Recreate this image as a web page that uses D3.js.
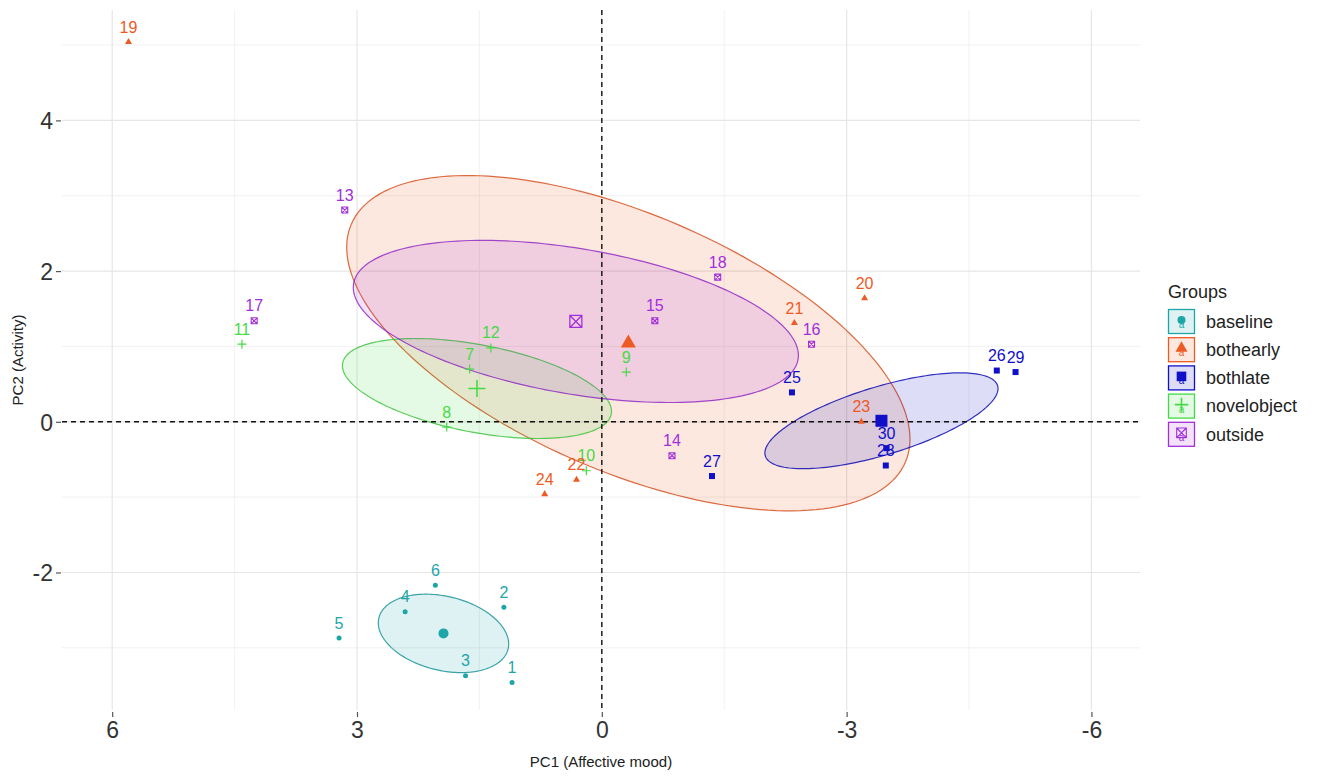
<!DOCTYPE html>
<meta charset="utf-8">
<script src="https://d3js.org/d3.v7.min.js"></script>
<style>
  body { margin: 0; background: #fff; }
  text { font-family: "Liberation Sans", Arial, sans-serif; }
</style>
<div id="my_dataviz"></div>
<script>

// groups, one colour and shape each
const groupNames = ["baseline", "bothearly", "bothlate", "novelobject", "outside"];
const groupColors = ["#1DA5AA", "#EE5A24", "#1010C8", "#45DA45", "#A22FDC"];

// individuals (label, group, PC1, PC2)
const pointIds = [1, 2, 3, 4, 5, 6, 7, 8, 9, 10, 11, 12, 13, 14, 15,
                  16, 17, 18, 19, 20, 21, 22, 23, 24, 25, 26, 27, 28, 29, 30];
const pointGroup = ["baseline", "baseline", "baseline", "baseline", "baseline", "baseline",
                    "novelobject", "novelobject", "novelobject", "novelobject", "novelobject", "novelobject",
                    "outside", "outside", "outside", "outside", "outside", "outside",
                    "bothearly", "bothearly", "bothearly", "bothearly", "bothearly", "bothearly",
                    "bothlate", "bothlate", "bothlate", "bothlate", "bothlate", "bothlate"];
const pc1 = [1.10, 1.20, 1.67, 2.41, 3.22, 2.04,
             1.62, 1.90, -0.30, 0.19, 4.41, 1.36,
             3.15, -0.86, -0.65, -2.57, 4.26, -1.42,
             5.80, -3.22, -2.36, 0.31, -3.18, 0.70,
             -2.33, -4.84, -1.35, -3.48, -5.07, -3.49];
const pc2 = [-3.46, -2.46, -3.37, -2.52, -2.87, -2.17,
             0.70, -0.07, 0.66, -0.65, 1.03, 0.98,
             2.81, -0.45, 1.34, 1.03, 1.34, 1.92,
             5.04, 1.64, 1.31, -0.77, 0.00, -0.96,
             0.39, 0.68, -0.72, -0.58, 0.66, -0.35];

const xTicks = [6, 3, 0, -3, -6];
const xMinor = [4.5, 1.5, -1.5, -4.5];
const yTicks = [4, 2, 0, -2];
const yMinor = [5, 3, 1, -1, -3];

const width = 1325, height = 782;
const panel = {left: 62, right: 1140, top: 10, bottom: 710};

const svg = d3.select("#my_dataviz")
  .append("svg")
    .attr("width", width)
    .attr("height", height)
    .style("background", "#fff");

// PC1 runs from positive (left) to negative (right)
const x = d3.scaleLinear().domain([6.615, -6.595]).range([panel.left, panel.right]);
const y = d3.scaleLinear().domain([5.465, -3.825]).range([panel.top, panel.bottom]);

const color = d3.scaleOrdinal().domain(groupNames).range(groupColors);

const data = pointIds.map((id, i) => ({id: id, group: pointGroup[i], x: pc1[i], y: pc2[i]}));

// grid
const grid = svg.append("g");
grid.selectAll(".minx").data(xMinor).join("line")
  .attr("x1", d => x(d)).attr("x2", d => x(d))
  .attr("y1", panel.top).attr("y2", panel.bottom)
  .attr("stroke", "#EDEDED").attr("stroke-width", 0.8);
grid.selectAll(".miny").data(yMinor).join("line")
  .attr("y1", d => y(d)).attr("y2", d => y(d))
  .attr("x1", panel.left).attr("x2", panel.right)
  .attr("stroke", "#EDEDED").attr("stroke-width", 0.8);
grid.selectAll(".majx").data(xTicks).join("line")
  .attr("x1", d => x(d)).attr("x2", d => x(d))
  .attr("y1", panel.top).attr("y2", panel.bottom)
  .attr("stroke", "#E6E6E6").attr("stroke-width", 1.2);
grid.selectAll(".majy").data(yTicks).join("line")
  .attr("y1", d => y(d)).attr("y2", d => y(d))
  .attr("x1", panel.left).attr("x2", panel.right)
  .attr("stroke", "#E6E6E6").attr("stroke-width", 1.2);

// axes: only ticks and labels, no domain line
const xAxis = svg.append("g")
  .attr("transform", `translate(0,${panel.bottom + 2})`)
  .call(d3.axisBottom(x).tickValues(xTicks).tickSize(5).tickPadding(5).tickFormat(d3.format("d")));
const yAxis = svg.append("g")
  .attr("transform", `translate(${panel.left - 1},0)`)
  .call(d3.axisLeft(y).tickValues(yTicks).tickSize(5).tickPadding(3).tickFormat(d3.format("d")));
[xAxis, yAxis].forEach(a => {
  a.select(".domain").remove();
  a.selectAll(".tick line").attr("stroke", "#555").attr("stroke-width", 1.2);
  a.selectAll(".tick text")
    .attr("fill", "#333")
    .style("font-family", "'Liberation Sans', Arial, sans-serif")
    .style("font-size", "23px");
});
// minus sign in the tick labels is a hyphen in the original
xAxis.selectAll(".tick text").text(d => String(d));
yAxis.selectAll(".tick text").text(d => String(d)).attr("dy", "0.36em");

// confidence ellipses of the group means (chi-square 2 df, 95%)
const k = 5.991;
const line = d3.line().curve(d3.curveLinearClosed);
function ellipsePath(pts) {
  const n = pts.length;
  const mx = d3.mean(pts, d => d.x), my = d3.mean(pts, d => d.y);
  let sxx = 0, syy = 0, sxy = 0;
  pts.forEach(d => {
    sxx += (d.x - mx) * (d.x - mx);
    syy += (d.y - my) * (d.y - my);
    sxy += (d.x - mx) * (d.y - my);
  });
  const a = sxx / (n - 1) / n, c = syy / (n - 1) / n, b = sxy / (n - 1) / n;
  const half = (a + c) / 2, diff = Math.sqrt(((a - c) / 2) ** 2 + b * b);
  const l1 = half + diff, l2 = half - diff;
  const th = 0.5 * Math.atan2(2 * b, a - c);
  const r1 = Math.sqrt(k * l1), r2 = Math.sqrt(k * l2);
  const out = d3.range(0, 2 * Math.PI, Math.PI / 90).map(t => {
    const ex = mx + r1 * Math.cos(t) * Math.cos(th) - r2 * Math.sin(t) * Math.sin(th);
    const ey = my + r1 * Math.cos(t) * Math.sin(th) + r2 * Math.sin(t) * Math.cos(th);
    return [x(ex), y(ey)];
  });
  return line(out);
}

const byGroup = d3.group(data, d => d.group);
const means = groupNames.map(g => ({
  group: g,
  x: d3.mean(byGroup.get(g), d => d.x),
  y: d3.mean(byGroup.get(g), d => d.y)
}));

svg.append("g").selectAll("path")
  .data(groupNames)
  .join("path")
    .attr("d", g => ellipsePath(byGroup.get(g)))
    .attr("fill", g => color(g))
    .attr("fill-opacity", 0.14)
    .attr("stroke", g => d3.color(color(g)).darker(0.3))
    .attr("stroke-opacity", 0.85)
    .attr("stroke-width", 1.2);

// zero lines
svg.append("line")
  .attr("x1", x(0)).attr("x2", x(0)).attr("y1", panel.top).attr("y2", panel.bottom)
  .attr("stroke", "#111").attr("stroke-width", 1.4).attr("stroke-dasharray", "5,4");
svg.append("line")
  .attr("y1", y(0)).attr("y2", y(0)).attr("x1", panel.left).attr("x2", panel.right)
  .attr("stroke", "#111").attr("stroke-width", 1.4).attr("stroke-dasharray", "5,4");

// marker drawing, s = size in px
function drawMarker(sel, group, s) {
  const col = color(group);
  if (group === "baseline") {
    sel.append("circle").attr("r", s / 2).attr("fill", col);
  } else if (group === "bothearly") {
    sel.append("path").attr("d", d3.symbol(d3.symbolTriangle, 0.433 * s * s)()).attr("fill", col);
  } else if (group === "bothlate") {
    sel.append("rect").attr("x", -s / 2).attr("y", -s / 2).attr("width", s).attr("height", s).attr("fill", col);
  } else if (group === "novelobject") {
    sel.append("path").attr("d", `M${-s / 2},0H${s / 2}M0,${-s / 2}V${s / 2}`)
      .attr("stroke", col).attr("stroke-width", s > 10 ? 1.6 : 1.2).attr("fill", "none");
  } else {
    const h = s / 2;
    sel.append("path").attr("d", `M${-h},${-h}H${h}V${h}H${-h}Z M${-h},${-h}L${h},${h} M${h},${-h}L${-h},${h}`)
      .attr("stroke", col).attr("stroke-width", s > 10 ? 1.3 : 1.1).attr("fill", "none");
  }
}
const pointSize = {baseline: 5, bothearly: 7, bothlate: 6, novelobject: 9, outside: 6};
const meanSize = {baseline: 10, bothearly: 15, bothlate: 12, novelobject: 17, outside: 12};

svg.append("g").selectAll("g")
  .data(data)
  .join("g")
    .attr("transform", d => `translate(${x(d.x)},${y(d.y)})`)
    .each(function(d) { drawMarker(d3.select(this), d.group, pointSize[d.group]); });

svg.append("g").selectAll("text")
  .data(data)
  .join("text")
    .attr("x", d => x(d.x))
    .attr("y", d => y(d.y) - 9.5)
    .attr("text-anchor", "middle")
    .attr("fill", d => color(d.group))
    .style("font-size", "16px")
    .text(d => d.id);

svg.append("g").selectAll("g")
  .data(means)
  .join("g")
    .attr("transform", d => `translate(${x(d.x)},${y(d.y)})`)
    .each(function(d) { drawMarker(d3.select(this), d.group, meanSize[d.group]); });

// axis titles
svg.append("text")
  .attr("x", (panel.left + panel.right) / 2)
  .attr("y", 767)
  .attr("text-anchor", "middle")
  .attr("fill", "#222")
  .style("font-size", "15px")
  .text("PC1 (Affective mood)");
svg.append("text")
  .attr("transform", `translate(23,${(panel.top + panel.bottom) / 2}) rotate(-90)`)
  .attr("text-anchor", "middle")
  .attr("fill", "#222")
  .style("font-size", "15px")
  .text("PC2 (Activity)");

// legend
const legend = svg.append("g").attr("transform", "translate(1168,0)");
legend.append("text")
  .attr("x", 0).attr("y", 298)
  .attr("fill", "#222")
  .style("font-size", "18px")
  .text("Groups");
const keys = legend.selectAll("g.key")
  .data(groupNames)
  .join("g")
    .attr("class", "key")
    .attr("transform", (d, i) => `translate(0,${309 + i * 28.2})`);
keys.append("rect")
  .attr("x", 0.5).attr("y", 0.5).attr("width", 26).attr("height", 24)
  .attr("fill", d => color(d)).attr("fill-opacity", 0.14)
  .attr("stroke", d => color(d)).attr("stroke-width", 1.3);
keys.append("g")
  .attr("transform", "translate(13.5,11)")
  .each(function(d) { drawMarker(d3.select(this), d, meanSize[d] * 0.8); });
keys.append("text")
  .attr("x", 13.5).attr("y", 19)
  .attr("text-anchor", "middle")
  .attr("fill", d => color(d))
  .style("font-size", "10px")
  .text("a");
keys.append("text")
  .attr("x", 38).attr("y", 12.5)
  .attr("dy", "0.35em")
  .attr("fill", "#222")
  .style("font-size", "18px")
  .text(d => d);

</script>
